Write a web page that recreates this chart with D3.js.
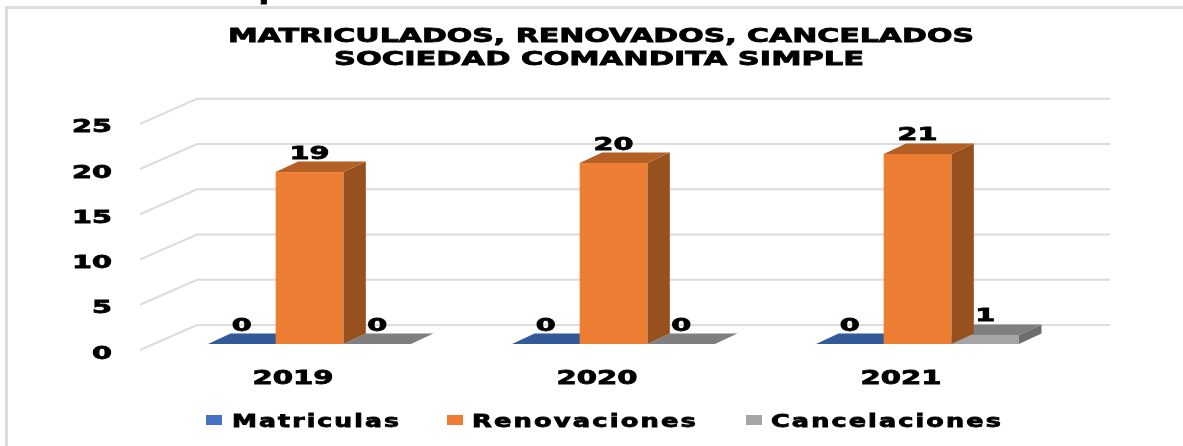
<!DOCTYPE html>
<html><head><meta charset="utf-8">
<script src="https://cdnjs.cloudflare.com/ajax/libs/d3/7.8.5/d3.min.js"></script>
<style>html,body{margin:0;padding:0;background:#fff;overflow:hidden}svg{display:block}
text{font-family:"DejaVu Sans",sans-serif;font-weight:700;fill:#000;stroke:#000;stroke-width:0.8px}</style>
</head><body><div id="chart"></div>
<script>
const years = ["2019","2020","2021"];
const seriesNames = ["Matriculas","Renovaciones","Cancelaciones"];
const matriculas = [0,0,0];
const renovaciones = [19,20,21];
const cancelaciones = [0,0,1];
const yTicks = [0,5,10,15,20,25];
const titleLines = ["MATRICULADOS, RENOVADOS, CANCELADOS","SOCIEDAD COMANDITA SIMPLE"];
const colors = {
  Matriculas:{front:"#4472c4",top:"#325a99",side:"#2c4f86"},
  Renovaciones:{front:"#ed7d31",top:"#b45f26",side:"#97511f"},
  Cancelaciones:{front:"#a5a5a5",top:"#7f7f7f",side:"#6e6e6e"}
};
const values = {Matriculas:matriculas,Renovaciones:renovaciones,Cancelaciones:cancelaciones};

const svg = d3.select("#chart").append("svg").attr("width",1183).attr("height",446);
svg.append("defs").append("filter").attr("id","soft").attr("x","-2%").attr("y","-2%").attr("width","104%").attr("height","104%")
   .append("feGaussianBlur").attr("stdDeviation",0.45);
const g = svg.append("g").attr("filter","url(#soft)");

// clipped text line above the chart frame
g.append("text").attr("x",15).attr("y",-1).attr("font-size",25).attr("textLength",295).attr("lengthAdjust","spacingAndGlyphs").text("comandita simple");

// frame
g.append("path").attr("d","M6.5,446V7.5H1183").attr("fill","none").attr("stroke","#dcdcdc").attr("stroke-width",3);

const y = d3.scaleLinear().domain([0,25]).range([344,117.8]);
const x0 = d3.scaleBand().domain(years).range([141,1053]);
const x1 = d3.scaleBand().domain(seriesNames).range([0,203]);
const groupOffset = 67;            // shift of the bar cluster inside the band
const depthX = 22.5, depthY = -10.5;  // bar depth
const wallFront = 6, wallBack = -19;  // grid offsets relative to bar base level

// gridlines
yTicks.forEach(t=>{
  g.append("path").attr("d",`M140,${y(t)+wallFront}L197,${y(t)+wallBack}H1110`)
    .attr("fill","none").attr("stroke","#dcdcdc").attr("stroke-width",2);
  g.append("text").attr("x",112).attr("y",y(t)+wallFront+8.5).attr("text-anchor","end")
    .attr("font-size",18).attr("textLength",String(t).length*20).attr("lengthAdjust","spacingAndGlyphs").text(t);
});

// bars, back to front order so that the orange one overlaps its neighbours
const order = ["Matriculas","Cancelaciones","Renovaciones"];
order.forEach(name=>{
  const c = colors[name];
  years.forEach((yr,i)=>{
    const v = values[name][i];
    const xl = x0(yr)+groupOffset+x1(name), xr = xl+x1.bandwidth();
    const yt = y(v), yb = y(0);
    const b = g.append("g");
    b.append("path").attr("fill",c.side).attr("d",`M${xr},${yt}L${xr+depthX},${yt+depthY}V${yb+depthY}L${xr},${yb}Z`);
    b.append("path").attr("fill",c.top).attr("d",`M${xl},${yt}L${xl+depthX},${yt+depthY}H${xr+depthX}L${xr},${yt}Z`);
    if(v>0) b.append("rect").attr("x",xl).attr("y",yt).attr("width",x1.bandwidth()).attr("height",yb-yt).attr("fill",c.front);
  });
});

// data labels
seriesNames.forEach(name=>{
  years.forEach((yr,i)=>{
    const v = values[name][i];
    const cx = x0(yr)+groupOffset+x1(name)+x1.bandwidth()/2;
    g.append("text").attr("x",cx).attr("y",y(v)-13.5).attr("text-anchor","middle")
      .attr("font-size",18).attr("textLength",String(v).length*20).attr("lengthAdjust","spacingAndGlyphs").text(v);
  });
});

// category labels
years.forEach(yr=>{
  g.append("text").attr("x",x0(yr)+x0.bandwidth()/2).attr("y",384).attr("text-anchor","middle")
    .attr("font-size",19).attr("textLength",81).attr("lengthAdjust","spacingAndGlyphs").text(yr);
});

// title
g.append("text").attr("x",601).attr("y",41.5).attr("text-anchor","middle").attr("font-size",19.5)
  .attr("textLength",746).attr("lengthAdjust","spacingAndGlyphs").text(titleLines[0]);
g.append("text").attr("x",599).attr("y",64.5).attr("text-anchor","middle").attr("font-size",19.5)
  .attr("textLength",530).attr("lengthAdjust","spacingAndGlyphs").text(titleLines[1]);

// legend
const legendSwatchX = [206,447,746];
const legendTextX = [232,472,771];
const legendTextW = [169,226,232];
seriesNames.forEach((name,i)=>{
  g.append("rect").attr("x",legendSwatchX[i]).attr("y",415).attr("width",16).attr("height",10).attr("fill",colors[name].front);
  g.append("text").attr("x",legendTextX[i]).attr("y",427).attr("font-size",18)
    .attr("textLength",legendTextW[i]).attr("lengthAdjust","spacingAndGlyphs").attr("letter-spacing",1.5).text(name);
});
</script></body></html>
